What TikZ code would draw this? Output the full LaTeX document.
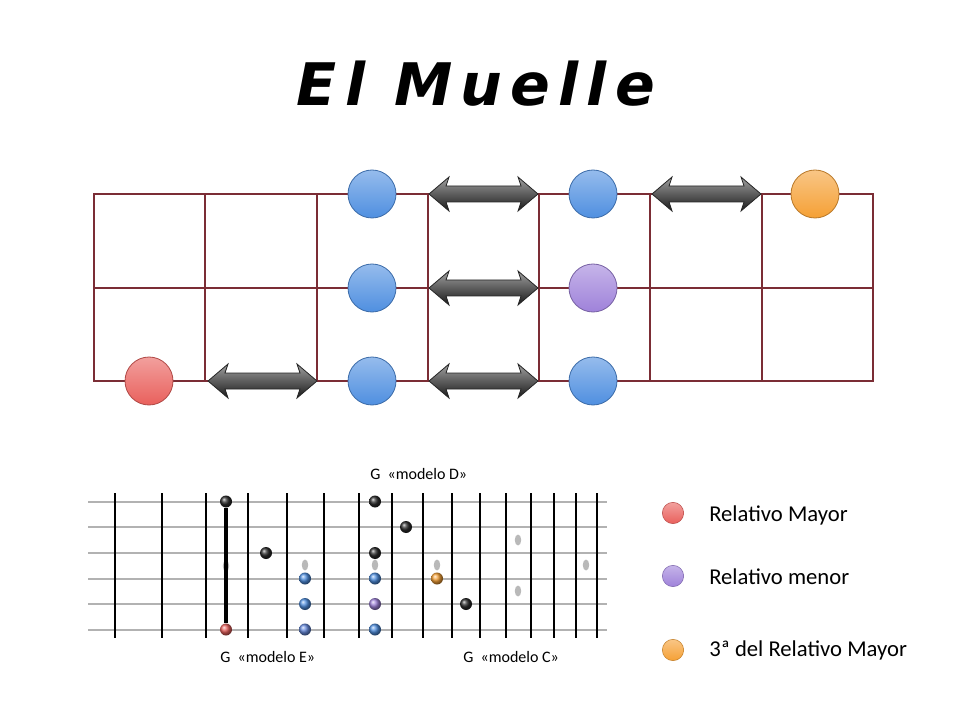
\documentclass[tikz,border=0pt]{standalone}
\usepackage{fontspec}
\setmainfont{Carlito}
\newfontfamily\titlefont[LetterSpace=14]{DejaVu Sans}
\usetikzlibrary{positioning}

\definecolor{rejillacol}{HTML}{7B2D35}
\definecolor{azul}{HTML}{4F8FE0}
\definecolor{rojo}{HTML}{E9605C}
\definecolor{morado}{HTML}{9F82DA}
\definecolor{naranja}{HTML}{F5A035}
\definecolor{negro}{HTML}{2A2A2A}

\tikzset{
  nota/.style={circle, draw=#1!75!black, line width=0.6pt, top color=#1!60!white, bottom color=#1, minimum size=36pt, inner sep=0pt},
  punto/.style={circle, shading=ball, ball color=#1, minimum size=9pt, inner sep=0pt},
  leyenda/.style={circle, draw=#1!80!black, line width=0.4pt, top color=#1!60!white, bottom color=#1, minimum size=16pt, inner sep=0pt},
  rejilla/.style={draw=rejillacol, line width=1.5pt},
  cuerda/.style={draw=gray!60, line width=1.5pt},
  traste/.style={draw=black, line width=2.2pt},
  cejilla/.style={draw=black, line width=3pt},
  marca/.style={fill=gray!55},
  etiqueta/.style={font=\fontsize{17}{20}\selectfont, anchor=base west, inner sep=0pt},
  modelo/.style={font=\fontsize{12}{14}\selectfont, anchor=base west, inner sep=0pt},
  pics/flecha/.style={code={
    \shade[top color=gray!75, bottom color=black!90, draw=black!85, line width=0.6pt]
      (0,0) -- (20,-17) -- (17,-8) -- (92,-8) -- (89,-17) -- (109,0)
      -- (89,17) -- (92,8) -- (17,8) -- (20,17) -- cycle;
  }}
}

\begin{document}
\begin{tikzpicture}[x=0.75pt, y=-0.75pt]
\fill[white] (0,0) rectangle (960,720);
\useasboundingbox (0,0) rectangle (960,720);

% titulo
\node[font=\titlefont\bfseries\itshape\fontsize{44}{50}\selectfont, anchor=base] (titulo) at (476,106) {El Muelle};

% mastil grande
\draw[rejilla] (94,194) rectangle (873,381);
\draw[rejilla] (94,288) -- (873,288);
\foreach \x in {205.3,316.6,427.9,539.1,650.4,761.7}
  \draw[rejilla] (\x,194) -- (\x,381);

\pic at (208,381) {flecha};
\pic at (429,194) {flecha};
\pic at (429,288) {flecha};
\pic at (429,381) {flecha};
\pic at (652,194) {flecha};

\node[nota=rojo] (R) at (149,381) {};
\node[nota=azul] (A1) at (372,194) {};
\node[nota=azul] (A2) at (372,288) {};
\node[nota=azul] (A3) at (372,381) {};
\node[nota=azul] (B1) at (593,194) {};
\node[nota=morado] (B2) at (593,288) {};
\node[nota=azul] (B3) at (593,381) {};
\node[nota=naranja] (C1) at (815,194) {};

% mastil pequeno
\foreach \y in {501.5,527,553,578.5,604,629.5}
  \draw[cuerda] (88,\y) -- (607,\y);
\foreach \x in {115,162,206,248,287,324,359,392,423,452,480,506,531,554,576,597}
  \draw[traste] (\x,493) -- (\x,638);
\foreach \x/\y in {226/566,305/565,375/565,437/565,518/540,518/591,586/565}
  \fill[marca] (\x,\y) ellipse (3.2 and 5.5);

\node[punto=negro] (g1) at (226,501.5) {};
\node[punto=rojo] (g6) at (226,629.5) {};
\draw[cejilla] (g1) -- (g6);
\node[punto=negro] (e3) at (266,553) {};
\node[punto=azul] (e4) at (305,578.5) {};
\node[punto=azul] (e5) at (305,604) {};
\node[punto=azul!70!morado] (e6) at (305,629.5) {};
\node[punto=negro] (d1) at (375,501.5) {};
\node[punto=negro] (d2) at (406,527) {};
\node[punto=negro] (d3) at (375,553) {};
\node[punto=azul] (d4) at (375,578.5) {};
\node[punto=morado] (d5) at (375,604) {};
\node[punto=azul] (d6) at (375,629.5) {};
\node[punto=naranja] (c4) at (437,578.5) {};
\node[punto=negro] (c5) at (466,604) {};

\node[modelo] (mD) at (370,479) {G\ \ «modelo D»};
\node[modelo] (mE) at (220,662) {G\ \ «modelo E»};
\node[modelo] (mC) at (463,662) {G\ \ «modelo C»};

% leyenda
\node[leyenda=rojo] (l1) at (673,513) {};
\node[leyenda=morado] (l2) at (673,576) {};
\node[leyenda=naranja] (l3) at (673,650) {};
\node[etiqueta] (t1) at (709,521) {Relativo Mayor};
\node[etiqueta] (t2) at (709,584) {Relativo menor};
\node[etiqueta] (t3) at (709,656) {3ª del Relativo Mayor};
\end{tikzpicture}
\end{document}
